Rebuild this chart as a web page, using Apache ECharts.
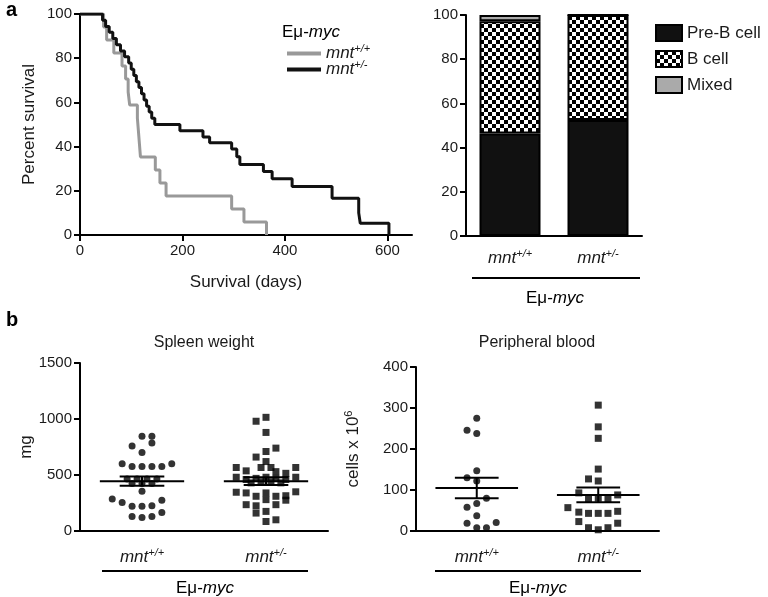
<!DOCTYPE html>
<html>
<head>
<meta charset="utf-8">
<script src="https://cdn.jsdelivr.net/npm/echarts@6/dist/echarts.min.js"></script>
<style>
html, body { margin: 0; padding: 0; background: #fff; }
#chart { width: 768px; height: 597px; }
</style>
</head>
<body>
<div id="chart"></div>
<script>
// ---- data ----
// Kaplan-Meier: [day, percent surviving after event]
var survWT = [[0,100],[46,94.1],[52,88.2],[66,82.4],[82,76.5],[89,70.6],[94,64.7],[97,58.8],[112,52.9],[114,47.1],[116,41.2],[118,35.3],[147,29.4],[156,23.5],[168,17.6],[296,11.8],[320,5.9],[364,0]];
var survHet = [[0,100],[44,97.2],[50,94.4],[57,91.7],[64,88.9],[71,86.1],[79,83.3],[87,80.6],[95,77.8],[100,75],[105,72.2],[110,69.4],[115,66.7],[120,63.9],[125,61.1],[130,58.3],[135,55.6],[140,52.8],[146,50],[195,47.2],[240,44.4],[253,41.7],[296,38.9],[306,35.4],[312,31.9],[358,28.7],[375,25.5],[414,21.9],[492,16.6],[544,10],[547,5.3],[603,0]];
var survTicks = [0, 200, 400, 600];

// tumour type (% of tumours)
var genotypes = ['mnt+/+', 'mnt+/-'];
var preB = [46.4, 52.5];
var bCell = [50.8, 47.5];
var mixed = [2.8, 0];

// spleen weight, mg: [jitter, value]
var spleenWT = [[0,845],[0.08,845],[0.08,785],[-0.08,760],[0,700],[-0.16,600],[0.24,600],[-0.08,575],[0,575],[0.08,575],[0.16,575],[-0.12,465],[-0.04,465],[0.04,465],[0.12,465],[-0.08,425],[0,425],[0.08,425],[0,355],[-0.24,285],[0.16,275],[-0.16,255],[-0.08,220],[0,220],[0.08,225],[0.16,165],[-0.08,130],[0,120],[0.08,130]];
var spleenHet = [[-0.08,980],[0,1015],[0,880],[0.08,740],[0,710],[-0.08,660],[0,620],[-0.04,567],[0.04,567],[-0.24,567],[0.24,567],[-0.16,537],[0.08,530],[0.16,515],[-0.24,480],[-0.16,460],[-0.08,470],[0,480],[0.08,470],[0.16,460],[0.24,480],[-0.12,430],[-0.04,440],[0.04,440],[0.12,430],[-0.24,346],[-0.16,340],[0,340],[0.24,350],[-0.08,310],[0.08,310],[0.16,315],[0,280],[0.16,275],[-0.16,235],[-0.08,225],[0.08,235],[-0.08,160],[0,175],[0,85],[0.08,100]];
var spleenMean = [445, 445];
var spleenSem = [42, 35];

// peripheral blood, cells x 10^6: [jitter, value]
var bloodWT = [[0,275],[-0.08,246],[0,238],[0,147],[-0.08,130],[0,122],[0.08,80],[-0.08,58],[0,67],[0,37],[-0.08,19],[0.16,21],[0,8],[0.08,8]];
var bloodHet = [[0,307],[0,254],[0,226],[0,151],[-0.08,127],[0,122],[-0.16,93],[0.16,88],[-0.08,78],[0,80],[0.08,78],[-0.25,57],[-0.16,46],[-0.08,43],[0,43],[0.08,43],[0.16,48],[-0.16,23],[0.16,19],[-0.08,8],[0,3],[0.08,8]];
var bloodMean = [105, 88];
var bloodSem = [25, 18];

// ---- styles ----
var FONT = 'Liberation Sans, Arial, Helvetica, sans-serif';
var INK = '#1a1a1a';
var rich = {
  i: { fontStyle: 'italic', fontSize: 17, fontFamily: FONT, color: INK },
  n: { fontSize: 17, fontFamily: FONT, color: INK },
  s: { fontStyle: 'italic', fontSize: 11, fontFamily: FONT, color: INK, padding: [0, 0, 10, 0] }
};
function mntLabel(name) { return '{i|mnt}{s|' + name.slice(3) + '}'; }
var eMyc = '{n|Eμ-}{i|myc}';

var axisLine = { onZero: false, lineStyle: { color: '#000', width: 2 } };
function plain(v) { return String(v); }
function tickLabel(extra) {
  var o = { color: INK, fontSize: 15, fontFamily: FONT, margin: 8, formatter: plain };
  for (var k in extra) o[k] = extra[k];
  return o;
}
var nameStyle = { color: INK, fontSize: 17, fontFamily: FONT };

// checkerboard fill for "B cell"
function checker() {
  var c = document.createElement('canvas');
  c.width = 8; c.height = 8;
  var g = c.getContext('2d');
  g.fillStyle = '#fff'; g.fillRect(0, 0, 8, 8);
  g.fillStyle = '#000'; g.fillRect(0, 0, 4, 4); g.fillRect(4, 4, 4, 4);
  return c;
}

function jitter(points, group) {
  return points.map(function (p) { return [group + p[0], p[1]]; });
}

// mean line with SEM whiskers
function meanSem(xi, yi, means, sems) {
  return {
    type: 'custom', xAxisIndex: xi, yAxisIndex: yi, silent: true, z: 5,
    data: means.map(function (m, i) { return [i, m, sems[i]]; }),
    encode: { x: 0, y: 1 },
    renderItem: function (params, api) {
      var x = api.value(0), m = api.value(1), s = api.value(2);
      var L = api.coord([x - 0.34, m]), R = api.coord([x + 0.34, m]);
      var hl = api.coord([x - 0.18, m + s]), hr = api.coord([x + 0.18, m + s]);
      var ll = api.coord([x - 0.18, m - s]), lr = api.coord([x + 0.18, m - s]);
      var st = { stroke: '#000', lineWidth: 2 };
      return { type: 'group', children: [
        { type: 'line', shape: { x1: L[0], y1: L[1], x2: R[0], y2: R[1] }, style: st },
        { type: 'line', shape: { x1: hl[0], y1: hl[1], x2: hr[0], y2: hr[1] }, style: st },
        { type: 'line', shape: { x1: ll[0], y1: ll[1], x2: lr[0], y2: lr[1] }, style: st },
        { type: 'line', shape: { x1: (hl[0] + hr[0]) / 2, y1: hl[1], x2: (ll[0] + lr[0]) / 2, y2: ll[1] }, style: st }
      ] };
    }
  };
}

function catAxis(grid, margin) {
  return {
    type: 'category', gridIndex: grid, data: genotypes,
    axisLine: axisLine,
    axisTick: { alignWithLabel: true, length: 6, lineStyle: { color: '#000', width: 2 } },
    axisLabel: { interval: 0, margin: margin, formatter: mntLabel, rich: rich }
  };
}

function valAxis(grid, max, step, extra) {
  var o = {
    type: 'value', gridIndex: grid, min: 0, max: max, interval: step,
    axisLine: { show: true, onZero: false, lineStyle: { color: '#000', width: 2 } },
    axisTick: { show: true, length: 6, lineStyle: { color: '#000', width: 2 } },
    axisLabel: tickLabel({}), splitLine: { show: false }
  };
  for (var k in extra) o[k] = extra[k];
  return o;
}

var myChart = echarts.init(document.getElementById('chart'));
var option = {
  animation: false,
  grid: [
    { left: 80, top: 14, width: 332, height: 221 },
    { left: 466, top: 15, width: 176, height: 221 },
    { left: 80, top: 363, width: 248, height: 168 },
    { left: 416, top: 367, width: 243, height: 164 }
  ],
  xAxis: [
    { type: 'value', gridIndex: 0, min: 0, max: 648, interval: 200,
      axisLine: axisLine,
      axisTick: { length: 6, lineStyle: { color: '#000', width: 2 }, customValues: survTicks },
      axisLabel: tickLabel({ customValues: survTicks }), splitLine: { show: false },
      name: 'Survival (days)', nameLocation: 'middle', nameGap: 39, nameTextStyle: nameStyle },
    catAxis(1, 12),
    catAxis(2, 16),
    { type: 'value', gridIndex: 2, show: false, min: -0.5, max: 1.5 },
    catAxis(3, 16),
    { type: 'value', gridIndex: 3, show: false, min: -0.5, max: 1.5 }
  ],
  yAxis: [
    valAxis(0, 100, 20, { name: 'Percent survival', nameLocation: 'middle', nameGap: 42, nameTextStyle: nameStyle }),
    valAxis(1, 100, 20, {}),
    valAxis(2, 1500, 500, { name: 'mg', nameLocation: 'middle', nameGap: 44, nameTextStyle: nameStyle }),
    valAxis(3, 400, 100, { name: '{n|cells x 10}{s|6}', nameLocation: 'middle', nameGap: 52,
      nameTextStyle: { rich: { n: rich.n, s: { fontSize: 11, fontFamily: FONT, color: INK, padding: [0, 0, 10, 0] } } } })
  ],
  legend: [
    { data: ['mnt+/+', 'mnt+/-'], left: 282, top: 38, orient: 'vertical', icon: 'rect',
      itemWidth: 34, itemHeight: 4, itemGap: -3, selectedMode: false,
      formatter: mntLabel, textStyle: { rich: rich } },
    { data: ['Pre-B cell', 'B cell', 'Mixed'], left: 650, top: 19, orient: 'vertical', icon: 'rect',
      itemWidth: 26, itemHeight: 16, itemGap: 8, selectedMode: false,
      itemStyle: { borderColor: '#000', borderWidth: 2 },
      textStyle: { color: INK, fontSize: 17, fontFamily: FONT } }
  ],
  series: [
    { name: 'mnt+/+', type: 'line', step: 'end', xAxisIndex: 0, yAxisIndex: 0, data: survWT,
      showSymbol: false, color: '#999', lineStyle: { width: 3, color: '#999' } },
    { name: 'mnt+/-', type: 'line', step: 'end', xAxisIndex: 0, yAxisIndex: 0, data: survHet,
      showSymbol: false, color: '#111', lineStyle: { width: 3, color: '#111' } },

    { name: 'Pre-B cell', type: 'bar', stack: 'tumour', xAxisIndex: 1, yAxisIndex: 1, data: preB,
      barWidth: 61, itemStyle: { color: '#111', borderColor: '#000', borderWidth: 2 } },
    { name: 'B cell', type: 'bar', stack: 'tumour', xAxisIndex: 1, yAxisIndex: 1, data: bCell,
      barWidth: 61, itemStyle: { color: { image: checker(), repeat: 'repeat' }, borderColor: '#000', borderWidth: 2 } },
    { name: 'Mixed', type: 'bar', stack: 'tumour', xAxisIndex: 1, yAxisIndex: 1, data: mixed,
      barWidth: 61, itemStyle: { color: '#aaa', borderColor: '#000', borderWidth: 2 } },

    { name: 'spleen +/+', type: 'scatter', xAxisIndex: 3, yAxisIndex: 2, data: jitter(spleenWT, 0),
      symbol: 'circle', symbolSize: 7, itemStyle: { color: '#000' } },
    { name: 'spleen +/-', type: 'scatter', xAxisIndex: 3, yAxisIndex: 2, data: jitter(spleenHet, 1),
      symbol: 'rect', symbolSize: 7, itemStyle: { color: '#000' } },
    meanSem(3, 2, spleenMean, spleenSem),

    { name: 'blood +/+', type: 'scatter', xAxisIndex: 5, yAxisIndex: 3, data: jitter(bloodWT, 0),
      symbol: 'circle', symbolSize: 7, itemStyle: { color: '#000' } },
    { name: 'blood +/-', type: 'scatter', xAxisIndex: 5, yAxisIndex: 3, data: jitter(bloodHet, 1),
      symbol: 'rect', symbolSize: 7, itemStyle: { color: '#000' } },
    meanSem(5, 3, bloodMean, bloodSem)
  ],
  graphic: [
    { type: 'text', left: 6, top: 0, style: { text: 'a', font: 'bold 20px ' + FONT, fill: '#000' } },
    { type: 'text', left: 282, top: 24, style: { text: eMyc, rich: rich } },
    { type: 'line', shape: { x1: 472, y1: 278, x2: 640, y2: 278 }, style: { stroke: '#000', lineWidth: 2 } },
    { type: 'text', x: 555, y: 298, style: { text: eMyc, rich: rich, align: 'center', verticalAlign: 'middle' } },

    { type: 'text', left: 6, top: 310, style: { text: 'b', font: 'bold 20px ' + FONT, fill: '#000' } },
    { type: 'text', x: 204, y: 343, style: { text: 'Spleen weight', font: '16px ' + FONT, fill: INK, align: 'center', verticalAlign: 'middle' } },
    { type: 'text', x: 537, y: 343, style: { text: 'Peripheral blood', font: '16px ' + FONT, fill: INK, align: 'center', verticalAlign: 'middle' } },
    { type: 'line', shape: { x1: 102, y1: 571, x2: 308, y2: 571 }, style: { stroke: '#000', lineWidth: 2 } },
    { type: 'text', x: 205, y: 588, style: { text: eMyc, rich: rich, align: 'center', verticalAlign: 'middle' } },
    { type: 'line', shape: { x1: 435, y1: 571, x2: 641, y2: 571 }, style: { stroke: '#000', lineWidth: 2 } },
    { type: 'text', x: 538, y: 588, style: { text: eMyc, rich: rich, align: 'center', verticalAlign: 'middle' } }
  ]
};
myChart.setOption(option);
window.addEventListener('resize', function () { myChart.resize(); });
</script>
</body>
</html>
